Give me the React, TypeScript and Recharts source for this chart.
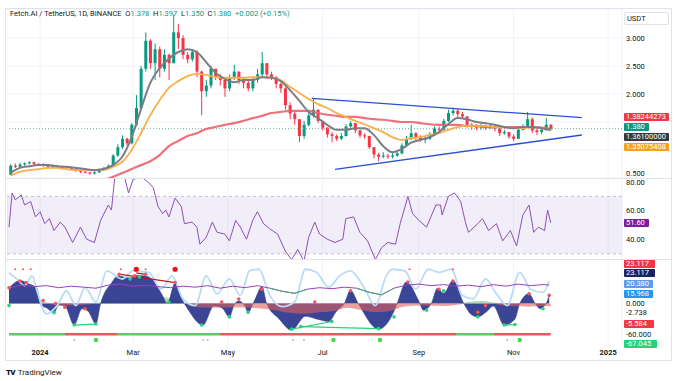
import React from "react";
import {
  ComposedChart,
  Bar,
  Line,
  Area,
  Scatter,
  XAxis,
  YAxis,
  CartesianGrid,
  ReferenceLine,
  ReferenceArea,
} from "recharts";

// ---- time axis: day index, day 0 = 12 Dec 2023 ----
const X_MIN = -1.3;
const X_MAX = 394.9;
const xTickDays = [20, 80, 141, 202, 264, 325, 386];
const xTickLabels = ["2024", "Mar", "May", "Jul", "Sep", "Nov", "2025"];

// ---- candles (one bar per 3 days, first at day 1) ----
const firstOpen = 0.56;
const closes = [
  0.72, 0.7, 0.74, 0.76, 0.78, 0.75, 0.74, 0.73, 0.7, 0.72,
  0.7, 0.68, 0.69, 0.66, 0.63, 0.61, 0.6, 0.58, 0.6, 0.66,
  0.68, 0.72, 0.9, 1.05, 1.2, 1.12, 1.45, 1.75, 2.45, 2.95,
  2.55, 2.8, 2.45, 2.7, 2.55, 3.1, 3.0, 2.7, 2.62, 2.75,
  2.4, 2.05, 2.15, 2.45, 2.3, 2.25, 2.1, 2.3, 2.4, 2.25,
  2.2, 2.1, 2.25, 2.35, 2.55, 2.35, 2.3, 2.18, 2.1, 1.8,
  1.65, 1.55, 1.25, 1.45, 1.62, 1.72, 1.52, 1.4, 1.28, 1.25,
  1.2, 1.25, 1.42, 1.48, 1.35, 1.26, 1.25, 1.05, 0.92, 0.88,
  0.9, 0.88, 0.9, 0.94, 1.08, 1.2, 1.3, 1.22, 1.18, 1.2,
  1.28, 1.38, 1.36, 1.52, 1.66, 1.7, 1.64, 1.6, 1.45, 1.42,
  1.4, 1.43, 1.4, 1.44, 1.38, 1.3, 1.32, 1.24, 1.2, 1.36,
  1.4, 1.55, 1.35, 1.32, 1.36, 1.45, 1.38,
];
const highs = [
  0.75, 0.76, 0.77, 0.78, 0.8, 0.79, 0.77, 0.76, 0.74, 0.74,
  0.73, 0.71, 0.71, 0.7, 0.67, 0.64, 0.63, 0.61, 0.62, 0.67,
  0.7, 0.74, 0.93, 1.1, 1.26, 1.22, 1.48, 1.98, 2.5, 3.1,
  2.98, 2.9, 2.85, 2.8, 2.72, 3.42, 3.25, 3.05, 2.75, 2.8,
  2.78, 2.42, 2.25, 2.5, 2.45, 2.35, 2.25, 2.35, 2.52, 2.4,
  2.3, 2.25, 2.3, 2.45, 2.75, 2.55, 2.4, 2.32, 2.2, 2.12,
  1.85, 1.7, 1.55, 1.52, 1.7, 1.92, 1.72, 1.52, 1.4, 1.32,
  1.28, 1.3, 1.46, 1.52, 1.48, 1.36, 1.3, 1.25, 1.05, 0.95,
  0.96, 0.93, 0.95, 0.98, 1.12, 1.25, 1.45, 1.32, 1.26, 1.25,
  1.32, 1.42, 1.42, 1.56, 1.72, 1.76, 1.74, 1.68, 1.6, 1.48,
  1.46, 1.47, 1.46, 1.48, 1.45, 1.4, 1.36, 1.32, 1.28, 1.4,
  1.46, 1.68, 1.58, 1.38, 1.4, 1.57, 1.46,
];
const lows = [
  0.55, 0.68, 0.69, 0.72, 0.74, 0.73, 0.72, 0.7, 0.66, 0.68,
  0.68, 0.65, 0.66, 0.64, 0.61, 0.59, 0.58, 0.56, 0.56, 0.59,
  0.65, 0.67, 0.71, 0.88, 1.02, 1.08, 1.1, 1.42, 1.72, 2.4,
  2.45, 2.25, 2.3, 2.4, 2.25, 2.55, 2.8, 2.62, 2.55, 2.58,
  2.3, 1.62, 1.95, 2.1, 2.25, 2.15, 1.95, 2.05, 2.25, 2.18,
  2.1, 2.05, 2.05, 2.2, 2.3, 2.28, 2.25, 2.1, 2.02, 1.72,
  1.55, 1.45, 1.14, 1.2, 1.42, 1.58, 1.48, 1.35, 1.22, 1.14,
  1.16, 1.18, 1.24, 1.4, 1.3, 1.22, 1.2, 1.02, 0.85, 0.8,
  0.85, 0.84, 0.85, 0.88, 0.92, 1.05, 1.18, 1.18, 1.15, 1.12,
  1.18, 1.26, 1.3, 1.35, 1.5, 1.62, 1.58, 1.55, 1.4, 1.36,
  1.35, 1.36, 1.36, 1.38, 1.33, 1.25, 1.27, 1.2, 1.16, 1.2,
  1.35, 1.4, 1.3, 1.27, 1.28, 1.34, 1.35,
];

// ---- moving averages, one value per 6 days (every second candle) ----
const maGray = [
  0.59, 0.68, 0.71, 0.73, 0.73, 0.71, 0.7, 0.68, 0.66, 0.64,
  0.66, 0.73, 0.88, 1.23, 1.73, 2.2, 2.46, 2.63, 2.75, 2.8,
  2.75, 2.57, 2.38, 2.27, 2.21, 2.25, 2.25, 2.3, 2.29, 2.23,
  2.07, 1.88, 1.68, 1.57, 1.45, 1.36, 1.36, 1.39, 1.39, 1.27,
  1.07, 0.96, 1.02, 1.13, 1.18, 1.23, 1.32, 1.46, 1.57, 1.55,
  1.5, 1.48, 1.45, 1.41, 1.39, 1.41, 1.41, 1.39, 1.36,
];
const maOrange = [
  0.54, 0.61, 0.64, 0.66, 0.68, 0.68, 0.66, 0.64, 0.64, 0.64,
  0.64, 0.7, 0.79, 1.0, 1.3, 1.62, 1.89, 2.11, 2.23, 2.32,
  2.36, 2.34, 2.3, 2.29, 2.29, 2.29, 2.3, 2.3, 2.29, 2.25,
  2.13, 2.02, 1.91, 1.82, 1.75, 1.66, 1.59, 1.52, 1.46, 1.39,
  1.32, 1.23, 1.18, 1.21, 1.23, 1.27, 1.3, 1.36, 1.41, 1.43,
  1.43, 1.43, 1.41, 1.41, 1.39, 1.39, 1.41, 1.39, 1.35,
];
const maRed = [
  null, null, null, null, null, null, null, null, null, null,
  0.46, 0.52, 0.59, 0.66, 0.73, 0.8, 0.91, 1.07, 1.16, 1.25,
  1.3, 1.375, 1.41, 1.45, 1.48, 1.52, 1.57, 1.61, 1.66, 1.68,
  1.7, 1.7, 1.7, 1.66, 1.63, 1.61, 1.59, 1.59, 1.57, 1.55,
  1.54, 1.52, 1.5, 1.5, 1.48, 1.46, 1.45, 1.45, 1.45, 1.43,
  1.43, 1.41, 1.41, 1.41, 1.41, 1.41, 1.41, 1.4, 1.38,
];

// triangle trendlines
const upperDays = [195, 369];
const upperValues = [1.923, 1.577];
const lowerDays = [210, 369];
const lowerValues = [0.655, 1.268];
const lastPrice = 1.38;
const priceTicks = [0.5, 1, 1.5, 2, 2.5, 3];
const priceLabelled = [0.5, 2, 2.5, 3];

// ---- RSI ----
const rsiDays = [
  0, 2, 4, 8, 10, 14, 17, 20, 23, 26, 29, 33, 36, 41, 46, 50, 55, 59, 64, 66,
  68, 74, 77, 80, 86, 90, 93, 96, 99, 101, 103, 107, 111, 113, 118, 121, 123,
  127, 131, 134, 139, 142, 146, 149, 153, 157, 160, 164, 168, 173, 178, 182,
  186, 190, 193, 197, 200, 205, 210, 215, 217, 222, 226, 231, 236, 240, 244,
  249, 252, 257, 260, 264, 269, 275, 278, 279, 283, 287, 291, 294, 296, 302,
  305, 309, 314, 318, 323, 327, 331, 335, 338, 341, 345, 347, 349,
];
const rsiValues = [
  48.6, 72.4, 67.6, 71, 64, 66.4, 55.7, 59.3, 51, 54.5, 46.2, 52.1, 48.6, 37.9,
  48.6, 40.2, 37.9, 53.3, 64, 60.5, 82, 85, 72.4, 82, 83, 79.5, 76, 62.9, 58,
  60.5, 55.7, 68.8, 62.9, 51, 52.1, 48.6, 36.7, 41.4, 52.1, 45, 43.8, 39, 53.3,
  48.6, 40.2, 53.3, 59.3, 51, 47.4, 43.8, 31.9, 26, 33, 24.8, 41.4, 52.1, 43.8,
  40.2, 37.9, 40.2, 54.5, 55.7, 45, 39, 26, 34.3, 37.9, 36.7, 51, 70, 58, 53.3,
  48.6, 64, 64, 57, 70, 72.4, 66.4, 52.1, 45, 51, 54.5, 46.2, 51, 39, 46.2,
  35.5, 57, 64, 45, 48.6, 46.2, 60.5, 51.6,
];

// ---- oscillator pane ----
const navyDays = [
  0, 7, 13, 18, 20, 25, 29, 32, 36, 42, 47, 51, 56, 59, 66, 70, 78, 83, 88, 93,
  99, 102, 107, 112, 115, 125, 132, 137, 142, 145, 148, 152, 154, 158, 163, 166,
  174, 182, 191, 198, 206, 211, 216, 220, 225, 238, 248, 250, 256, 264, 267,
  272, 276, 280, 286, 293, 298, 302, 308, 312, 319, 326, 329, 335, 339, 342,
  346, 348,
];
const navyValues = [
  30, 45, 38, 30, 0, -10, -18, -3, -5, -42, -10, -15, -40, 0, 40, 54, 50, 55,
  54, 45, 15, 0, 40, 5, -10, -42, -5, -8, -26, -3, 5, -5, -17, 5, 33, 0, -30,
  -52, -25, -30, -35, -15, 0, 26, 0, -50, -15, 0, 42, 5, -13, 0, 30, 20, 45, 0,
  -22, -26, -15, -5, -42, -30, 0, 19, 0, -10, 0, 16,
];
const lightDays = [
  0, 5, 10, 15, 18, 24, 31, 37, 43, 49, 56, 63, 73, 80, 90, 98, 105, 112, 120,
  127, 134, 142, 149, 155, 161, 168, 176, 184, 191, 198, 206, 213, 220, 228,
  236, 243, 247, 255, 262, 270, 277, 285, 292, 299, 307, 314, 321, 329, 336,
  344, 348,
];
const lightValues = [
  60, 48, 35, 54, 25, -20, -4, 25, -4, 31, 3, 64, 48, 64, 61, 28, 54, 9, -4, 54,
  19, 48, 16, 64, 67, 16, -6, 3, 67, 61, 32, 54, 64, 35, -4, 54, 67, 64, 28, 67,
  61, 67, 16, 9, 48, 19, -4, 61, 28, 22, 44,
];
const purpleDays = [
  0, 8, 16, 24, 32, 40, 48, 56, 64, 72, 80, 88, 96, 104, 112, 120, 128, 136,
  144, 152, 160, 168, 176, 184, 192, 200, 208, 216, 224, 232, 240, 248, 256,
  264, 272, 280, 288, 296, 304, 312, 320, 328, 336, 344, 348,
];
const purpleValues = [
  30, 36, 33, 35, 31, 34, 32, 30, 36, 38, 34, 36, 33, 31, 34, 32, 35, 30, 34,
  31, 35, 30, 24, 20, 28, 31, 29, 32, 30, 22, 17, 30, 36, 38, 35, 37, 34, 36,
  33, 37, 34, 38, 35, 37, 36,
];
const purpleGreenA = { days: [168, 176, 184, 192], values: [30, 24, 20, 28] };
const purpleGreenB = { days: [224, 232, 240, 248], values: [30, 22, 17, 30] };
const mfDays = [
  0, 10, 18, 24, 30, 40, 50, 58, 64, 72, 80, 90, 100, 108, 113, 118, 130, 145,
  160, 170, 180, 190, 200, 210, 218, 226, 236, 246, 254, 265, 280, 290, 295,
  305, 312, 316, 325, 335, 342, 349,
];
const mfValues = [
  8, 10, 8, 2, -3, -4, -2, 2, 8, 6, 9, 10, 12, 8, 0, -6, -8, -7, -9, -12, -18,
  -20, -17, -14, -8, -12, -17, -14, -6, -4, -5, -2, 3, 5, 2, -3, -5, -6, -5,
  -5.6,
];
const redDots = [
  [0, 31], [7, 44], [11, 41], [22, 6], [30, 0], [36, -7], [49, -10], [71, 57],
  [81, 54], [88, 57], [107, 41], [137, 3], [148, 9], [163, 28], [197, 3],
  [220, 25], [257, 42], [277, 28], [286, 44], [302, -17], [307, -4], [335, 19],
  [348, 16],
];
const greenDots = [
  [0, -4], [29, -18], [42, -42], [56, -40], [78, 48], [84, 52], [103, 3],
  [124, -42], [142, -26], [154, -17], [182, -50], [188, -45], [208, -35],
  [238, -49], [248, -26], [269, -13], [280, 25], [302, -26], [319, -42],
  [326, -41], [344, -10],
];
const topDotsSmall = [4, 9, 14, 72, 88, 258, 286];
const topDotsBig = [82, 107];
const bottomDotsSmall = [42, 125, 128, 183, 190, 321];
const bottomDotsBig = [56, 209, 239, 329];
const greenDivs = [
  [[42, -42], [56, -40]],
  [[182, -50], [208, -35]],
  [[188, -45], [238, -49]],
  [[319, -42], [326, -41]],
];
const redDivs = [
  [[72, 57], [107, 41]],
  [[82, 60], [88, 57]],
];
const greenSpans = [[0, 36], [70, 136], [288, 312]];
const redSpans = [[36, 70], [136, 288], [312, 349]];

const UP = "#089981";
const DOWN = "#f23645";
const TXT = "#131722";
const GRID = "#f0f3fa";
const FONT = "Roboto, 'Noto Sans', sans-serif";

const candleRows = closes.map((c, i) => ({
  d: 3 * i + 1,
  open: i === 0 ? firstOpen : closes[i - 1],
  close: c,
  high: highs[i],
  low: lows[i],
  gray: i % 2 === 0 ? maGray[i / 2] : undefined,
  orange: i % 2 === 0 ? maOrange[i / 2] : undefined,
  red: i % 2 === 0 && maRed[i / 2] != null ? maRed[i / 2] : undefined,
}));

const rsiRows = rsiDays.map((d, i) => ({ d, rsi: rsiValues[i] }));

function merge(series: { key: string; days: number[]; values: number[] }[]) {
  const map = new Map<number, any>();
  series.forEach(({ key, days, values }) => {
    days.forEach((d, i) => {
      const row = map.get(d) || { d };
      row[key] = values[i];
      map.set(d, row);
    });
  });
  return Array.from(map.values()).sort((a, b) => a.d - b.d);
}

const oscRows = merge([
  { key: "navy", days: navyDays, values: navyValues },
  { key: "light", days: lightDays, values: lightValues },
  { key: "purple", days: purpleDays, values: purpleValues },
  { key: "pgA", days: purpleGreenA.days, values: purpleGreenA.values },
  { key: "pgB", days: purpleGreenB.days, values: purpleGreenB.values },
  { key: "mfPos", days: mfDays, values: mfValues.map((v) => Math.max(v, 0)) },
  { key: "mfNeg", days: mfDays, values: mfValues.map((v) => Math.min(v, 0)) },
]);

const Candle = (props: any) => {
  const { x, y, width, height, payload } = props;
  if (!payload || payload.high == null) return null;
  const { open, close, high, low } = payload;
  const top = Math.min(y, y + height);
  const h = Math.abs(height);
  const k = h / (high - low || 1);
  const color = close >= open ? UP : DOWN;
  const bodyTop = top + (high - Math.max(open, close)) * k;
  const bodyH = Math.max(1, Math.abs(close - open) * k);
  const cx = x + width / 2;
  return (
    <g>
      <line x1={cx} x2={cx} y1={top} y2={top + h} stroke={color} strokeWidth={1} />
      <rect x={x} y={bodyTop} width={width} height={bodyH} fill={color} />
    </g>
  );
};

const priceTick = (props: any) => {
  const { x, y, payload } = props;
  if (!priceLabelled.includes(payload.value)) return <g />;
  const dy = payload.value === 0.5 ? -2 : 2.6;
  return (
    <text x={x} y={y} dy={dy} fontSize={7.5} fill={TXT} fontFamily={FONT}>
      {payload.value.toFixed(3)}
    </text>
  );
};

const simpleTick = (digits: number) => (props: any) => {
  const { x, y, payload } = props;
  return (
    <text x={x} y={y} dy={2.6} fontSize={7.5} fill={TXT} fontFamily={FONT}>
      {payload.value.toFixed(digits)}
    </text>
  );
};

const timeTick = (props: any) => {
  const { x, y, payload } = props;
  const label = xTickLabels[xTickDays.indexOf(payload.value)];
  const bold = /^\d{4}$/.test(label);
  return (
    <text x={x} y={y + 12} textAnchor="middle" fontSize={7.5} fontWeight={bold ? 700 : 400} fill={TXT} fontFamily={FONT}>
      {label}
    </text>
  );
};

const dot = (r: number, fill: string) => (p: any) => <circle cx={p.cx} cy={p.cy} r={r} fill={fill} />;

const Tag = ({ top, width = 45, bg, text, color = "#fff" }: any) => (
  <div
    style={{
      position: "absolute",
      left: 624,
      top,
      width,
      height: 8,
      background: bg,
      color,
      fontSize: 7.5,
      lineHeight: "8px",
      paddingLeft: 2,
      boxSizing: "border-box",
      borderRadius: 1,
      fontFamily: FONT,
      whiteSpace: "nowrap",
      overflow: "hidden",
    }}
  >
    {text}
  </div>
);

const xAxisHidden = (
  <XAxis type="number" dataKey="d" domain={[X_MIN, X_MAX]} ticks={xTickDays} hide allowDataOverflow />
);

export default function App() {
  const g = (v: string) => <span style={{ color: UP }}>{v}</span>;
  return (
    <div style={{ position: "absolute", left: 0, top: 0, width: 677, height: 381, background: "#fff", overflow: "hidden", fontFamily: FONT }}>
      <div style={{ position: "absolute", left: 5, top: 8, width: 667, height: 353, border: "1px solid #e0e3eb", boxSizing: "border-box" }} />

      {/* price pane */}
      <div style={{ position: "absolute", left: 7, top: 9 }}>
        <ComposedChart width={663} height={169} data={candleRows} margin={{ top: 0, right: 0, bottom: 0, left: 0 }}>
          <CartesianGrid stroke={GRID} />
          {xAxisHidden}
          <YAxis
            orientation="right"
            type="number"
            domain={[0.5, 3.518]}
            ticks={priceTicks}
            interval={0}
            width={48}
            tickLine={false}
            axisLine={false}
            tickSize={0}
            tickMargin={4}
            tick={priceTick}
            allowDataOverflow
          />
          <ReferenceLine y={lastPrice} stroke="#6aa79d" strokeDasharray="1 2" />
          <Bar dataKey={(r: any) => [r.low, r.high]} barSize={3} shape={Candle} isAnimationActive={false} />
          <Line dataKey="red" type="monotone" stroke="#f0616d" strokeWidth={2.2} strokeOpacity={0.9} dot={false} connectNulls isAnimationActive={false} />
          <Line dataKey="orange" type="monotone" stroke="#f9b04a" strokeWidth={1.8} dot={false} connectNulls isAnimationActive={false} />
          <Line dataKey="gray" type="monotone" stroke="#7b7d84" strokeWidth={2} dot={false} connectNulls isAnimationActive={false} />
          <ReferenceLine
            segment={[{ x: upperDays[0], y: upperValues[0] }, { x: upperDays[1], y: upperValues[1] }]}
            stroke="#2a4fd6"
            strokeWidth={1.3}
          />
          <ReferenceLine
            segment={[{ x: lowerDays[0], y: lowerValues[0] }, { x: lowerDays[1], y: lowerValues[1] }]}
            stroke="#2a4fd6"
            strokeWidth={1.3}
          />
        </ComposedChart>
      </div>

      {/* RSI pane */}
      <div style={{ position: "absolute", left: 7, top: 178 }}>
        <ComposedChart width={663} height={81} data={rsiRows} margin={{ top: 0, right: 0, bottom: 0, left: 0 }}>
          <CartesianGrid stroke={GRID} horizontal={false} />
          {xAxisHidden}
          <YAxis
            orientation="right"
            type="number"
            domain={[26.4, 82.8]}
            ticks={[40, 60, 80]}
            interval={0}
            width={48}
            tickLine={false}
            axisLine={false}
            tickSize={0}
            tickMargin={4}
            tick={simpleTick(2)}
            allowDataOverflow
          />
          <ReferenceArea y1={30} y2={70} fill="#7e57c2" fillOpacity={0.1} strokeOpacity={0} />
          <ReferenceLine y={70} stroke="#c6bcd9" strokeDasharray="3 3" />
          <ReferenceLine y={30} stroke="#c6bcd9" strokeDasharray="3 3" />
          <Line dataKey="rsi" type="linear" stroke="#8e4fb8" strokeWidth={1} dot={false} isAnimationActive={false} />
        </ComposedChart>
      </div>

      {/* oscillator pane */}
      <div style={{ position: "absolute", left: 7, top: 259 }}>
        <ComposedChart width={663} height={103} data={oscRows} margin={{ top: 0, right: 0, bottom: 0, left: 0 }}>
          <CartesianGrid stroke={GRID} horizontal={false} />
          <XAxis
            type="number"
            dataKey="d"
            domain={[X_MIN, X_MAX]}
            ticks={xTickDays}
            interval={0}
            height={19}
            tickLine={false}
            axisLine={false}
            tickSize={0}
            tickMargin={0}
            tick={timeTick}
            allowDataOverflow
          />
          <YAxis
            orientation="right"
            type="number"
            domain={[-77, 87]}
            ticks={[0, -60]}
            interval={0}
            width={48}
            tickLine={false}
            axisLine={false}
            tickSize={0}
            tickMargin={4}
            tick={simpleTick(3)}
            allowDataOverflow
          />
          <Area dataKey="mfPos" type="monotone" baseValue={0} stroke="none" fill="#4caf50" fillOpacity={0.45} connectNulls isAnimationActive={false} />
          <Line dataKey="light" type="monotone" stroke="#b9dcf5" strokeWidth={1.8} dot={false} connectNulls isAnimationActive={false} />
          <Area dataKey="navy" type="monotone" baseValue={0} stroke="#2d3a8c" strokeWidth={0.5} fill="#2f3b8f" fillOpacity={0.95} connectNulls isAnimationActive={false} />
          <Area dataKey="mfNeg" type="monotone" baseValue={0} stroke="none" fill="#e0605f" fillOpacity={0.6} connectNulls isAnimationActive={false} />
          <Line dataKey="purple" type="linear" stroke="#9b3fbf" strokeWidth={1} dot={false} connectNulls isAnimationActive={false} />
          <Line dataKey="pgA" type="linear" stroke="#43b06a" strokeWidth={1} dot={false} connectNulls isAnimationActive={false} />
          <Line dataKey="pgB" type="linear" stroke="#43b06a" strokeWidth={1} dot={false} connectNulls isAnimationActive={false} />
          {greenSpans.map(([a, b], i) => (
            <ReferenceLine key={"gs" + i} segment={[{ x: a, y: -60 }, { x: b, y: -60 }]} stroke="#5cc96b" strokeWidth={2.5} />
          ))}
          {redSpans.map(([a, b], i) => (
            <ReferenceLine key={"rs" + i} segment={[{ x: a, y: -60 }, { x: b, y: -60 }]} stroke="#e25c5c" strokeWidth={2.5} />
          ))}
          {greenDivs.map(([p, q], i) => (
            <ReferenceLine key={"gd" + i} segment={[{ x: p[0], y: p[1] }, { x: q[0], y: q[1] }]} stroke="#2ecf7a" strokeWidth={1.2} />
          ))}
          {redDivs.map(([p, q], i) => (
            <ReferenceLine key={"rd" + i} segment={[{ x: p[0], y: p[1] }, { x: q[0], y: q[1] }]} stroke="#c4161c" strokeWidth={1.2} />
          ))}
          <Scatter data={redDots.map(([d, v]) => ({ d, v }))} dataKey="v" shape={dot(1.8, "#f2545b")} isAnimationActive={false} />
          <Scatter data={greenDots.map(([d, v]) => ({ d, v }))} dataKey="v" shape={dot(1.8, "#29d27c")} isAnimationActive={false} />
          <Scatter data={topDotsSmall.map((d) => ({ d, v: 67 }))} dataKey="v" shape={dot(1, "#f2545b")} isAnimationActive={false} />
          <Scatter data={topDotsBig.map((d) => ({ d, v: 67 }))} dataKey="v" shape={dot(2.6, "#e8141c")} isAnimationActive={false} />
          <Scatter data={bottomDotsSmall.map((d) => ({ d, v: -71 }))} dataKey="v" shape={dot(1, "#8fd98f")} isAnimationActive={false} />
          <Scatter data={bottomDotsBig.map((d) => ({ d, v: -71 }))} dataKey="v" shape={dot(2.2, "#4cd64c")} isAnimationActive={false} />
        </ComposedChart>
      </div>

      {/* pane separators */}
      <div style={{ position: "absolute", left: 6, top: 178, width: 666, height: 1, background: "#e0e3eb" }} />
      <div style={{ position: "absolute", left: 6, top: 259, width: 666, height: 1, background: "#e0e3eb" }} />

      {/* header */}
      <div style={{ position: "absolute", left: 10, top: 9, fontSize: 7.5, lineHeight: "10px", color: TXT, whiteSpace: "nowrap" }}>
        Fetch.AI / TetherUS, 1D, BINANCE&nbsp;&nbsp;O{g("1.378")}&nbsp;&nbsp;H{g("1.397")}&nbsp;&nbsp;L{g("1.350")}&nbsp;&nbsp;C{g("1.380")}&nbsp;&nbsp;{g("+0.002 (+0.15%)")}
      </div>

      {/* currency box */}
      <div style={{ position: "absolute", left: 624, top: 12, width: 45, height: 13, border: "1px solid #e0e3eb", boxSizing: "border-box", borderRadius: 2, fontSize: 7.5, lineHeight: "11px", paddingLeft: 2, color: TXT }}>
        USDT
      </div>

      {/* price pane value tags */}
      <Tag top={113} bg="#f23645" text="1.38244273" />
      <Tag top={123} width={25} bg="#089981" text="1.380" />
      <Tag top={133} bg="#363a45" text="1.36100000" />
      <Tag top={143} bg="#f7a21b" text="1.35075408" />

      {/* RSI tag */}
      <Tag top={219} width={25} bg="#7b1fa2" text="51.60" />

      {/* oscillator tags */}
      <Tag top={260} width={31} bg="#f23645" text="23.117" />
      <Tag top={269} width={31} bg="#1c2262" text="23.117" />
      <Tag top={280} width={29} bg="#5b9cf0" text="20.380" />
      <Tag top={290} width={29} bg="#2196f3" text="15.968" />
      <div style={{ position: "absolute", left: 626, top: 309, fontSize: 7.5, lineHeight: "8px", color: TXT }}>-2.738</div>
      <Tag top={320} width={30} bg="#f23645" text="-5.584" />
      <Tag top={340} width={33} bg="#22d47a" text="-67.045" />

      {/* footer */}
      <div style={{ position: "absolute", left: 6, top: 368, fontSize: 8, lineHeight: "10px", color: TXT, whiteSpace: "nowrap" }}>
        <span style={{ fontWeight: 900, letterSpacing: -0.8, marginRight: 3 }}>TV</span>TradingView
      </div>
    </div>
  );
}
